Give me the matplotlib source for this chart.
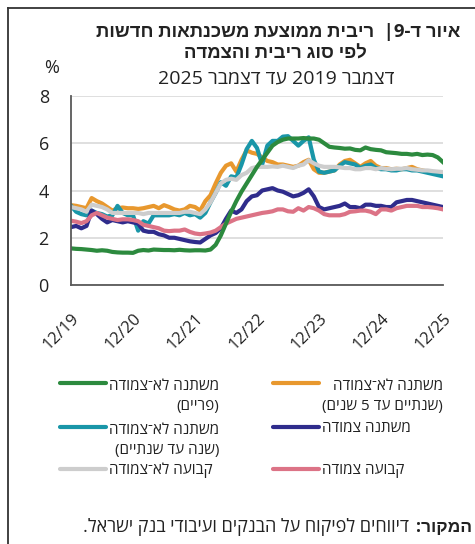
"""Average interest on new mortgages by rate/indexation type, Dec 2019 - Dec 2025."""

import re

import matplotlib

matplotlib.use("Agg")
import matplotlib.pyplot as plt
from matplotlib.lines import Line2D

plt.rcParams["font.family"] = ["Open Sans", "Liberation Sans", "DejaVu Sans"]

W, H = 475, 544

# monthly index 0 = 12/19 ... 72 = 12/25
tick_pos = [0, 12, 24, 36, 48, 60, 72]
tick_labels = ["12/19", "12/20", "12/21", "12/22", "12/23", "12/24", "12/25"]

prime = [1.55, 1.53, 1.52, 1.50, 1.48, 1.45, 1.47, 1.45, 1.40, 1.38, 1.37, 1.37, 1.36,
         1.45, 1.48, 1.46, 1.50, 1.49, 1.48, 1.48, 1.47, 1.49, 1.47, 1.46, 1.47, 1.47,
         1.46, 1.50, 1.70, 2.10, 2.60, 3.10, 3.55, 3.95, 4.30, 4.65, 5.00, 5.30, 5.60,
         5.90, 6.05, 6.15, 6.20, 6.20, 6.20, 6.22, 6.20, 6.20, 6.15, 6.00, 5.85, 5.82,
         5.80, 5.77, 5.78, 5.72, 5.70, 5.82, 5.75, 5.72, 5.70, 5.62, 5.60, 5.58, 5.55,
         5.55, 5.52, 5.55, 5.50, 5.52, 5.50, 5.40, 5.20]
var_2_5 = [3.38, 3.35, 3.30, 3.25, 3.68, 3.55, 3.45, 3.30, 3.15, 3.25, 3.28, 3.25, 3.25,
           3.22, 3.25, 3.30, 3.35, 3.25, 3.38, 3.30, 3.20, 3.15, 3.20, 3.35, 3.30, 3.15,
           3.55, 3.80, 4.30, 4.75, 5.05, 5.15, 4.80, 5.30, 5.70, 5.60, 5.55, 5.40, 5.25,
           5.20, 5.10, 5.10, 5.05, 5.00, 5.05, 5.20, 5.30, 4.90, 4.75, 4.75, 4.80, 4.85,
           5.10, 5.25, 5.30, 5.15, 5.00, 5.15, 5.25, 5.05, 4.95, 4.95, 4.90, 4.92, 4.90,
           4.95, 5.00, 4.90, 4.85, 4.80, 4.75, 4.70, 4.65]
var_1_2 = [3.35, 3.10, 3.00, 2.95, 3.15, 3.05, 3.00, 2.90, 2.95, 3.35, 3.05, 2.95, 2.95,
           2.30, 2.70, 2.60, 2.95, 2.95, 2.95, 2.95, 3.00, 2.95, 3.05, 2.95, 3.00, 2.85,
           3.05, 3.50, 3.90, 4.35, 4.20, 4.60, 4.55, 5.10, 5.75, 6.10, 5.80, 5.10, 5.90,
           6.10, 6.10, 6.28, 6.30, 6.10, 5.90, 6.10, 6.25, 5.30, 4.80, 4.75, 4.80, 4.85,
           5.05, 5.20, 5.15, 5.10, 4.95, 5.05, 5.10, 4.95, 4.90, 4.90, 4.85, 4.85, 4.90,
           4.90, 4.85, 4.85, 4.80, 4.75, 4.70, 4.65, 4.60]
fixed_nonidx = [3.30, 3.25, 3.20, 3.10, 3.40, 3.35, 3.30, 3.20, 3.05, 3.05, 3.05, 3.05,
                3.05, 3.05, 3.00, 3.05, 3.05, 3.05, 3.05, 3.05, 3.05, 3.05, 3.10, 3.10,
                3.05, 3.00, 3.20, 3.50, 3.90, 4.30, 4.45, 4.50, 4.45, 4.65, 4.75, 4.95,
                5.00, 5.00, 5.00, 5.02, 5.00, 5.05, 5.00, 4.95, 5.05, 5.10, 5.28, 5.15,
                5.05, 5.00, 5.00, 5.00, 4.98, 4.95, 4.95, 4.90, 4.90, 4.95, 4.95, 4.90,
                4.95, 4.92, 4.90, 4.92, 4.92, 4.95, 4.90, 4.88, 4.85, 4.85, 4.82, 4.80, 4.78]
var_idx = [2.45, 2.50, 2.40, 2.50, 3.15, 3.00, 2.80, 2.65, 2.75, 2.70, 2.65, 2.70, 2.65,
           2.60, 2.30, 2.25, 2.25, 2.15, 2.10, 2.00, 2.00, 1.95, 1.90, 1.85, 1.82, 1.80,
           1.95, 2.10, 2.20, 2.40, 2.80, 3.15, 3.05, 3.20, 3.55, 3.75, 3.80, 4.00, 4.05,
           4.10, 4.00, 3.95, 3.85, 3.75, 3.80, 3.90, 4.05, 3.75, 3.30, 3.20, 3.25, 3.30,
           3.35, 3.45, 3.30, 3.30, 3.25, 3.40, 3.40, 3.35, 3.35, 3.30, 3.30, 3.50, 3.55,
           3.60, 3.60, 3.55, 3.50, 3.45, 3.40, 3.35, 3.30]
fixed_idx = [2.72, 2.68, 2.62, 2.70, 2.95, 3.05, 2.95, 2.85, 2.80, 2.75, 2.78, 2.78, 2.75,
             2.70, 2.55, 2.50, 2.45, 2.40, 2.30, 2.28, 2.30, 2.30, 2.35, 2.25, 2.18, 2.15,
             2.18, 2.22, 2.30, 2.45, 2.60, 2.70, 2.80, 2.85, 2.90, 2.95, 3.00, 3.05, 3.08,
             3.12, 3.20, 3.20, 3.12, 3.10, 3.25, 3.15, 3.30, 3.25, 3.15, 3.00, 2.95, 2.95,
             2.95, 3.00, 3.10, 3.12, 3.15, 3.15, 3.10, 3.00, 3.20, 3.20, 3.15, 3.25, 3.30,
             3.35, 3.35, 3.35, 3.30, 3.30, 3.28, 3.25, 3.20]

C_GREEN = "#2c8a3e"
C_ORANGE = "#e8982e"
C_TEAL = "#1996a8"
C_GREY = "#cdcdcd"
C_NAVY = "#2f2c8c"
C_PINK = "#dc7386"

MAQAF = "\u05be"


def rtl(s: str) -> str:
    """Visual order for Hebrew text (matplotlib has no bidi)."""
    lines = []
    for line in s.split("\n"):
        out = line[::-1]
        out = re.sub(r"[0-9]+", lambda m: m.group(0)[::-1], out)
        out = out.translate(str.maketrans("()", ")("))
        lines.append(out)
    return "\n".join(lines)


def fx(px):
    return px / W


def fy(py):
    return 1 - py / H


fig = plt.figure(figsize=(W / 100, H / 100), dpi=100)
ax = fig.add_axes([fx(71), fy(285), fx(443) - fx(71), fy(96) - fy(285)])

x = list(range(len(prime)))
ax.plot(x, var_2_5, color=C_ORANGE, lw=3)
ax.plot(x, var_1_2, color=C_TEAL, lw=3)
ax.plot(x, fixed_nonidx, color=C_GREY, lw=3)
ax.plot(x, var_idx, color=C_NAVY, lw=3)
ax.plot(x, fixed_idx, color=C_PINK, lw=3)
ax.plot(x, prime, color=C_GREEN, lw=3)

ax.set_xlim(0, 72)
ax.set_ylim(0, 8)
ax.set_yticks([0, 2, 4, 6, 8])
ax.set_xticks(tick_pos)
ax.set_xticklabels(tick_labels, rotation=45, ha="right", rotation_mode="anchor")
ax.tick_params(axis="y", length=0, pad=16, labelsize=13, labelcolor="#222222")
ax.tick_params(axis="x", length=0, pad=18, labelsize=12, labelcolor="#222222")
ax.grid(axis="y", color="#d9d9d9", lw=1.2)
ax.set_axisbelow(True)
for side in ("top", "right"):
    ax.spines[side].set_visible(False)
for side in ("left", "bottom"):
    ax.spines[side].set_color("#595959")
    ax.spines[side].set_linewidth(1.3)

# titles
fig.text(fx(278), fy(32), rtl("איור ד-9|  ריבית ממוצעת משכנתאות חדשות"),
         ha="center", va="center", fontsize=13.3, fontweight="bold", color="#222222")
fig.text(fx(275), fy(54), rtl("לפי סוג ריבית והצמדה"),
         ha="center", va="center", fontsize=13.3, fontweight="bold", color="#222222")
fig.text(fx(276), fy(79), rtl("דצמבר 2019 עד דצמבר 2025"),
         ha="center", va="center", fontsize=14, color="#222222")
fig.text(fx(52), fy(68), "%", ha="center", va="center", fontsize=13, color="#222222")

# legend, drawn by hand in RTL layout
legend_items = [
    (60, 383, C_GREEN, f"משתנה לא{MAQAF}צמודה\n(פריים)"),
    (60, 427, C_TEAL, f"משתנה לא{MAQAF}צמודה\n(שנה עד שנתיים)"),
    (60, 469, C_GREY, f"קבועה לא{MAQAF}צמודה"),
    (273, 383, C_ORANGE, f"משתנה לא{MAQAF}צמודה\n(שנתיים עד 5 שנים)"),
    (273, 427, C_NAVY, "משתנה צמודה"),
    (273, 469, C_PINK, "קבועה צמודה"),
]
for lx, ly, color, label in legend_items:
    fig.add_artist(Line2D([fx(lx), fx(lx + 46)], [fy(ly), fy(ly)], color=color,
                          lw=3, solid_capstyle="round"))
    n_extra = label.count("\n")
    # baseline of a multi-line text sits on its last line
    fig.text(fx(lx + 49), fy(ly + 5 + 22 * n_extra), rtl(label), ha="left",
             va="baseline", ma="right", fontsize=11, linespacing=1.5,
             color="#222222")

# source
fig.text(fx(472), fy(527), rtl("המקור:"), ha="right", va="center",
         fontsize=12.5, fontweight="bold", color="#222222")
fig.text(fx(409), fy(527), rtl("דיווחים לפיקוח על הבנקים ועיבודי בנק ישראל."),
         ha="right", va="center", fontsize=13, color="#222222")

# frame
fig.add_artist(Line2D([fx(8), 1], [fy(8), fy(8)], color="#333333", lw=1.3))
fig.add_artist(Line2D([fx(8), fx(8)], [fy(8), 0], color="#333333", lw=1.3))

fig.savefig("out.png", dpi=100)
